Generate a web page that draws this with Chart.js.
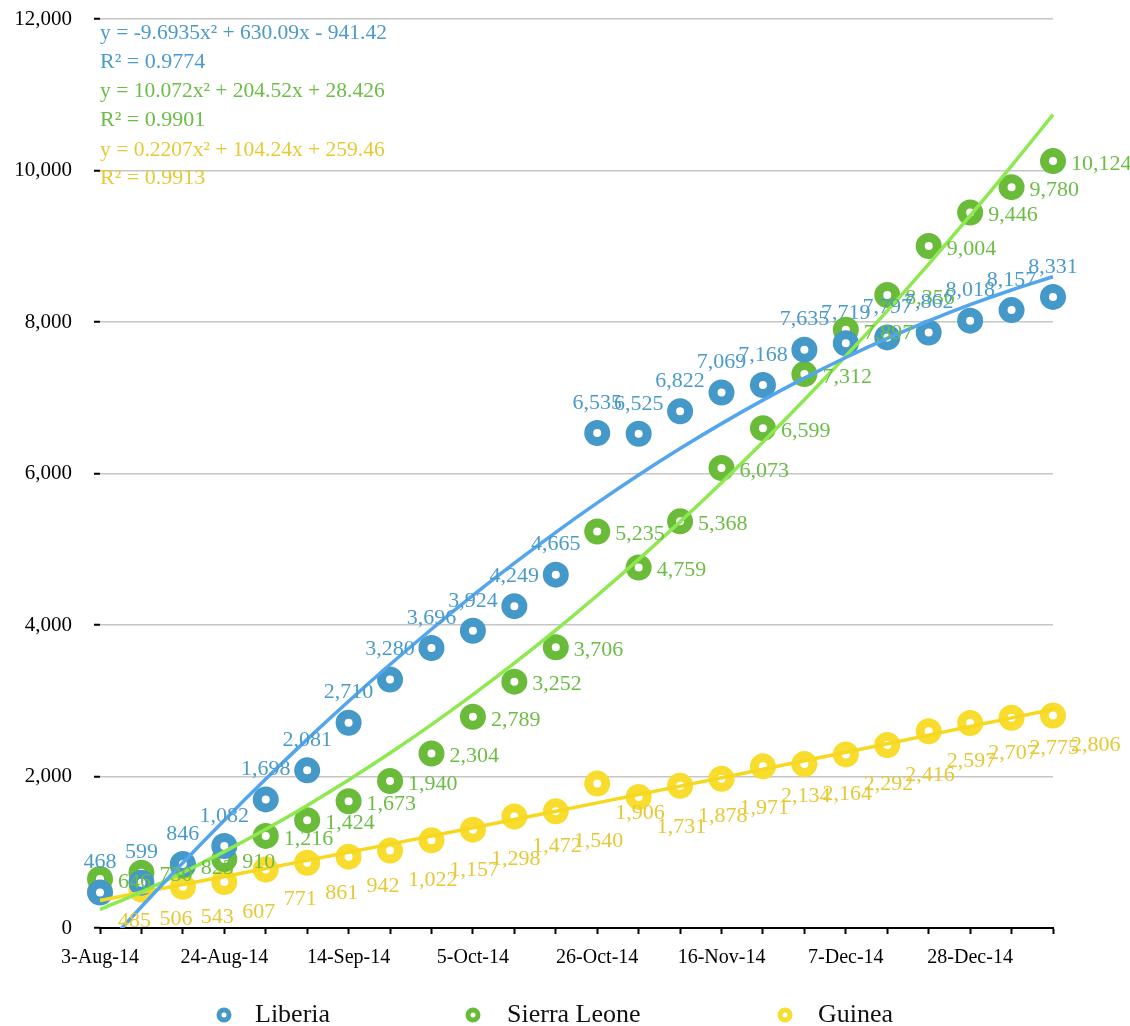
<!DOCTYPE html>
<html>
<head>
<meta charset="utf-8">
<script src="https://cdn.jsdelivr.net/npm/chart.js@4.4.1/dist/chart.umd.min.js"></script>
<style>
  html, body { margin: 0; padding: 0; background: #fff; }
  #wrap { width: 1130px; height: 1026px; position: relative; }
</style>
</head>
<body>
<div id="wrap"><canvas id="chart"></canvas></div>
<script>
// weekly report dates
const dates = [
  "3-Aug-14", "10-Aug-14", "17-Aug-14", "24-Aug-14", "31-Aug-14", "7-Sep-14",
  "14-Sep-14", "21-Sep-14", "28-Sep-14", "5-Oct-14", "12-Oct-14", "19-Oct-14",
  "26-Oct-14", "2-Nov-14", "9-Nov-14", "16-Nov-14", "23-Nov-14", "30-Nov-14",
  "7-Dec-14", "14-Dec-14", "21-Dec-14", "28-Dec-14", "4-Jan-15", "11-Jan-15"
];

const liberia = [468, 599, 846, 1082, 1698, 2081, 2710, 3280, 3696, 3924, 4249, 4665,
  6535, 6525, 6822, 7069, 7168, 7635, 7719, 7797, 7862, 8018, 8157, 8331];
const sierraLeone = [646, 730, 823, 910, 1216, 1424, 1673, 1940, 2304, 2789, 3252, 3706,
  5235, 4759, 5368, 6073, 6599, 7312, 7897, 8356, 9004, 9446, 9780, 10124];
const guinea = [485, 506, 543, 607, 771, 861, 942, 1022, 1157, 1298, 1472, 1540,
  1906, 1731, 1878, 1971, 2134, 2164, 2292, 2416, 2597, 2707, 2775, 2806];

// polynomial (order 2) trendline coefficients as shown on the chart [a, b, c]
const liberiaFit = [-9.6935, 630.09, -941.42];
const sierraLeoneFit = [10.072, 204.52, 28.426];
const guineaFit = [0.2207, 104.24, 259.46];

const equations = [
  { text: "y = -9.6935x² + 630.09x - 941.42", color: "#4a9bcb" },
  { text: "R² = 0.9774", color: "#4a9bcb" },
  { text: "y = 10.072x² + 204.52x + 28.426", color: "#6cbd45" },
  { text: "R² = 0.9901", color: "#6cbd45" },
  { text: "y = 0.2207x² + 104.24x + 259.46", color: "#e6c935" },
  { text: "R² = 0.9913", color: "#e6c935" }
];

const FONT = "'Liberation Serif', 'Times New Roman', serif";

// trendline value for each week (x = 1..n like the spreadsheet)
function trend(fit) {
  return dates.map((d, i) => {
    const x = i + 1;
    return fit[0] * x * x + fit[1] * x + fit[2];
  });
}

const fmt = (v) => Math.round(v).toLocaleString("en-US");

const pointSet = (label, data, color, textColor, pos, order) => ({
  label: label,
  data: data,
  showLine: false,
  borderColor: color,
  backgroundColor: "#fff",
  pointBackgroundColor: "#fff",
  pointBorderColor: color,
  pointRadius: 8.5,
  pointBorderWidth: 9,
  pointHoverRadius: 8.5,
  labelPos: pos,
  labelColor: textColor,
  order: order,
});

const trendSet = (data, color) => ({
  label: "trend",
  data: data,
  borderColor: color,
  borderWidth: 3.5,
  pointRadius: 0,
  cubicInterpolationMode: "monotone",
  fill: false,
  order: 0,
});

// data labels drawn next to points
const labelPlugin = {
  id: "pointLabels",
  afterDatasetsDraw(chart) {
    const ctx = chart.ctx;
    ctx.save();
    ctx.font = "22px " + FONT;
    chart.data.datasets.forEach((ds, di) => {
      if (!ds.labelPos) return;
      const meta = chart.getDatasetMeta(di);
      ctx.fillStyle = ds.labelColor;
      ctx.textBaseline = "middle";
      meta.data.forEach((pt, i) => {
        const txt = fmt(ds.data[i]);
        if (ds.labelPos === "above") {
          ctx.textAlign = "center";
          ctx.fillText(txt, pt.x, pt.y - 30);
        } else if (ds.labelPos === "right") {
          ctx.textAlign = "left";
          ctx.fillText(txt, pt.x + 18, pt.y + 3);
        } else {
          ctx.textAlign = "left";
          ctx.fillText(txt, pt.x + 18, pt.y + 30);
        }
      });
    });
    ctx.restore();
  },
};

// trendline equations + bottom legend
const textPlugin = {
  id: "extraText",
  afterDraw(chart) {
    const ctx = chart.ctx;
    ctx.save();
    ctx.textBaseline = "middle";
    ctx.textAlign = "left";
    const ys = [33, 62, 91, 120, 150, 178];
    equations.forEach((e, i) => {
      ctx.font = (i % 2 ? "22px " : "21.5px ") + FONT;
      ctx.fillStyle = e.color;
      ctx.fillText(e.text, 100, ys[i]);
    });

    const items = [
      { name: "Liberia", color: "#4599c9", mx: 224, tx: 255 },
      { name: "Sierra Leone", color: "#6abb3a", mx: 473, tx: 507 },
      { name: "Guinea", color: "#f8dc2e", mx: 785, tx: 818 },
    ];
    items.forEach((it) => {
      ctx.beginPath();
      ctx.arc(it.mx, 1015, 5, 0, Math.PI * 2);
      ctx.fillStyle = "#fff";
      ctx.fill();
      ctx.lineWidth = 5;
      ctx.strokeStyle = it.color;
      ctx.stroke();
      ctx.fillStyle = "#111";
      ctx.font = "26px " + FONT;
      ctx.fillText(it.name, it.tx, 1015);
    });
    ctx.restore();
  },
};

new Chart(document.getElementById("chart"), {
  type: "line",
  data: {
    labels: dates,
    datasets: [
      trendSet(trend(liberiaFit), "#53a5ee"),
      trendSet(trend(sierraLeoneFit), "#8ee84f"),
      trendSet(trend(guineaFit), "#f7d820"),
      pointSet("Guinea", guinea, "#f8dc2e", "#e6c935", "below", 3),
      pointSet("Sierra Leone", sierraLeone, "#6abb3a", "#6cbd45", "right", 2),
      pointSet("Liberia", liberia, "#4599c9", "#4a9bcb", "above", 1),
    ],
  },
  options: {
    responsive: true,
    maintainAspectRatio: false,
    animation: false,
    layout: { padding: { top: 19, right: 77, left: 0, bottom: 0 } },
    plugins: {
      legend: { display: false },
      tooltip: { enabled: false },
    },
    scales: {
      x: {
        type: "category",
        offset: false,
        afterFit: (s) => { s.height = 98; },
        grid: {
          drawOnChartArea: false,
          drawTicks: true,
          tickLength: 6,
          tickColor: "#000",
          tickWidth: 2,
        },
        border: { color: "#000", width: 2 },
        ticks: {
          autoSkip: false,
          maxRotation: 0,
          padding: 12,
          color: "#000",
          font: { family: FONT, size: 20 },
          callback: function (val, i) {
            return i % 3 === 0 ? this.getLabelForValue(val) : "";
          },
        },
      },
      y: {
        min: 0,
        max: 12000,
        afterFit: (s) => {
          s.width = 100;
          s.paddingTop = 0;
          s.paddingBottom = 0;
        },
        grid: {
          color: "#c6c6c6",
          lineWidth: 1.5,
          tickColor: "#000",
          tickLength: 6,
          tickWidth: 2,
        },
        border: { display: false },
        ticks: {
          stepSize: 2000,
          padding: 22,
          color: "#000",
          font: { family: FONT, size: 21 },
          callback: (v) => v.toLocaleString("en-US"),
        },
      },
    },
  },
  plugins: [labelPlugin, textPlugin],
});
</script>
</body>
</html>
